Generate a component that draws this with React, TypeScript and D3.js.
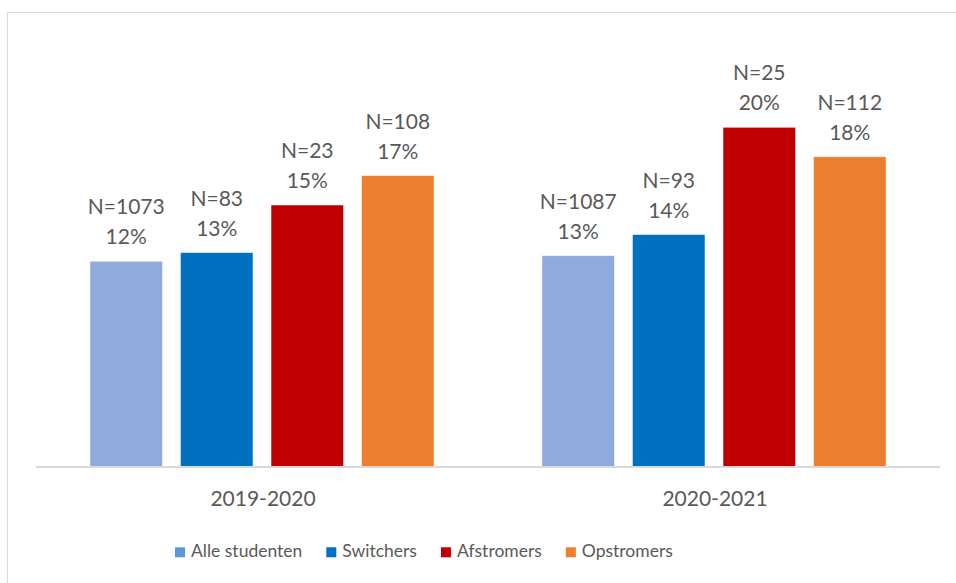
import React from "react";
import * as d3 from "d3";

const years = ["2019-2020", "2020-2021"];
const seriesNames = ["Alle studenten", "Switchers", "Afstromers", "Opstromers"];
const barColors = ["#8FAADC", "#0070C0", "#C00000", "#ED7D31"];
const legendColors = ["#5B9BD5", "#0070C0", "#C00000", "#ED7D31"];
const values2019 = [0.1207, 0.1258, 0.1538, 0.1711];
const values2020 = [0.124, 0.1364, 0.1995, 0.1822];
const nLabels2019 = ["N=1073", "N=83", "N=23", "N=108"];
const nLabels2020 = ["N=1087", "N=93", "N=25", "N=112"];
const pctLabels2019 = ["12%", "13%", "15%", "17%"];
const pctLabels2020 = ["13%", "14%", "20%", "18%"];

const W = 956;
const H = 583;
const plotLeft = 36;
const plotRight = 940;
const baseY = 466.5;
const FONT = "Lato, 'Open Sans', sans-serif";
const TEXT = "#595959";
const LEGEND_SIZE = 17.5;

function measure(text: string, font: string): number {
  const c = document.createElement("canvas");
  const ctx = c.getContext("2d");
  if (!ctx) return text.length * 8;
  ctx.font = font;
  return ctx.measureText(text).width;
}

export default function App() {
  const x0 = d3.scaleBand<string>().domain(years).range([plotLeft, plotRight]).padding(0);
  const x1 = d3
    .scaleBand<string>()
    .domain(seriesNames)
    .range([54, x0.bandwidth() - 54])
    .paddingInner(0.2)
    .paddingOuter(0);
  const y = d3.scaleLinear().domain([0, 0.25]).range([baseY, baseY - 425]);

  const groups = [
    { year: years[0], values: values2019, n: nLabels2019, pct: pctLabels2019 },
    { year: years[1], values: values2020, n: nLabels2020, pct: pctLabels2020 },
  ];

  // legend layout
  const legendFont = `${LEGEND_SIZE}px Lato`;
  let lx = 175;
  const legendItems = seriesNames.map((name, i) => {
    const w = measure(name, legendFont);
    const item = { name, x: lx, color: legendColors[i], w };
    lx += 10 + 6 + w + 24;
    return item;
  });

  return (
    <div style={{ position: "absolute", left: 0, top: 0, width: W, height: H, background: "#fff" }}>
      <svg width={W} height={H} style={{ display: "block" }}>
        <rect x={0} y={0} width={W} height={H} fill="#fff" />
        <rect x={7.5} y={12.5} width={W + 20} height={H + 20} fill="none" stroke="#D9D9D9" strokeWidth={1} />
        {groups.map((g) => (
          <g key={g.year} transform={`translate(${x0(g.year)},0)`}>
            {seriesNames.map((s, i) => {
              const bx = x1(s) as number;
              const top = y(g.values[i]);
              const cx = bx + x1.bandwidth() / 2;
              return (
                <g key={s}>
                  <rect
                    x={bx}
                    y={top}
                    width={x1.bandwidth()}
                    height={baseY - top}
                    fill={barColors[i]}
                    stroke="#fff"
                    strokeOpacity={0.5}
                    strokeWidth={0.8}
                  />
                  <text
                    x={cx}
                    y={top - 47}
                    textAnchor="middle"
                    fontFamily={FONT}
                    fontSize={21}
                    fill={TEXT}
                  >
                    {g.n[i]}
                  </text>
                  <text
                    x={cx}
                    y={top - 17}
                    textAnchor="middle"
                    fontFamily={FONT}
                    fontSize={21}
                    fill={TEXT}
                  >
                    {g.pct[i]}
                  </text>
                </g>
              );
            })}
            <text
              x={x0.bandwidth() / 2 + 1}
              y={505.7}
              textAnchor="middle"
              fontFamily={FONT}
              fontSize={21}
              fill={TEXT}
            >
              {g.year}
            </text>
          </g>
        ))}
        <line x1={plotLeft} x2={plotRight} y1={baseY + 0.5} y2={baseY + 0.5} stroke="#D9D9D9" strokeWidth={2} />
        {legendItems.map((it) => (
          <g key={it.name}>
            <rect x={it.x} y={547.3} width={10} height={10} fill={it.color} />
            <text x={it.x + 16} y={557.3} fontFamily={FONT} fontSize={LEGEND_SIZE} fill={TEXT}>
              {it.name}
            </text>
          </g>
        ))}
      </svg>
    </div>
  );
}
